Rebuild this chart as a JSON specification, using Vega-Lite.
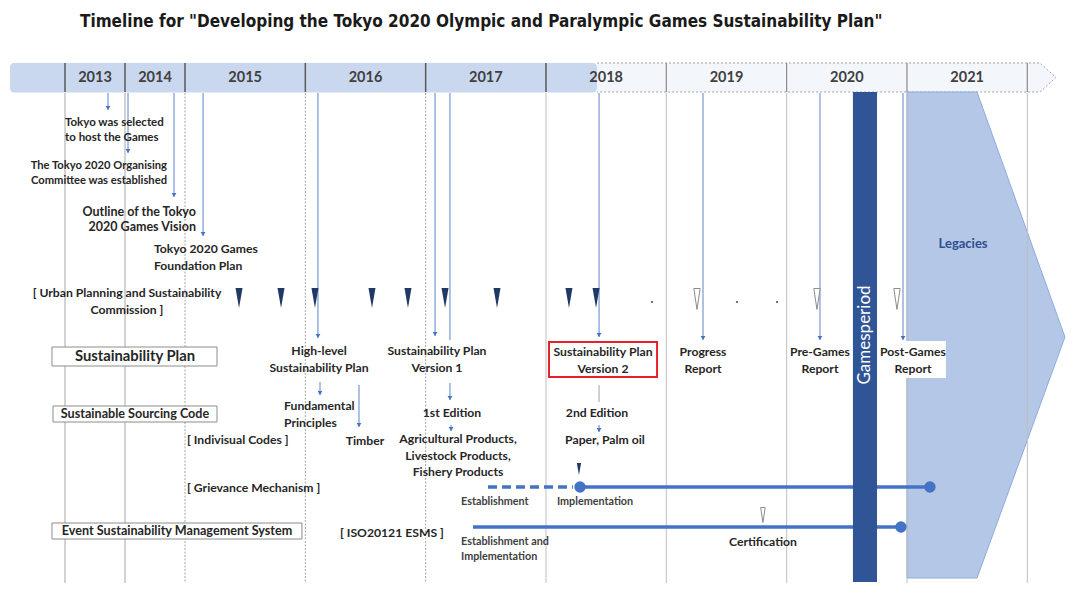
{
"$schema": "https://vega.github.io/schema/vega-lite/v6.json",
"width": 1080, "height": 597, "padding": 0,
"autosize": {"type": "fit", "contains": "padding"},
"background": "white",
"config": {"view": {"stroke": null}},
"datasets": {
"yearLabels": [
{"label":"2013","t":2013.5,"y":7.75},{"label":"2014","t":2014.5,"y":7.75},{"label":"2015","t":2015.5,"y":7.75},{"label":"2016","t":2016.5,"y":7.75},{"label":"2017","t":2017.5,"y":7.75},{"label":"2018","t":2018.5,"y":7.75},{"label":"2019","t":2019.5,"y":7.75},{"label":"2020","t":2020.5,"y":7.75},{"label":"2021","t":2021.5,"y":7.75}],
"headerSepDark": [{"t":2013,"y":6.3,"y2":9.2},{"t":2014,"y":6.3,"y2":9.2},{"t":2015,"y":6.3,"y2":9.2},{"t":2016,"y":6.3,"y2":9.2},{"t":2017,"y":6.3,"y2":9.2},{"t":2018,"y":6.3,"y2":9.2}],
"headerSepGray": [{"t":2019,"y":6.3,"y2":9.2},{"t":2020,"y":6.3,"y2":9.2},{"t":2021,"y":6.3,"y2":9.2},{"t":2022,"y":6.3,"y2":9.2}],
"gridEarly": [{"t":2013,"y":9.3,"y2":58.3},{"t":2014,"y":9.3,"y2":58.3}],
"gridDotted": [{"t":2015,"y":9.3,"y2":58.3},{"t":2016,"y":9.3,"y2":58.3},{"t":2017,"y":9.3,"y2":58.3}],
"gridLate": [{"t":2018,"y":9.3,"y2":58.3},{"t":2019,"y":9.3,"y2":58.3},{"t":2020,"y":9.3,"y2":58.3},{"t":2021,"y":9.3,"y2":58.3},{"t":2022,"y":9.3,"y2":58.3}],
"headerFill": [{"t":2012.083,"t2":2018.424,"y":6.3,"y2":9.25}],
"headerLight": [{"t":2018.424,"t2":2022.106,"y":6.3,"y2":9.2}],
"headerTip": [{"t":2022.106,"y":6.3,"y2":9.2},{"t":2022.238,"y":7.75,"y2":7.75}],
"headerOutline": [{"i":1,"t":2018.424,"y":6.3},{"i":2,"t":2022.106,"y":6.3},{"i":3,"t":2022.238,"y":7.75},{"i":4,"t":2022.106,"y":9.2},{"i":5,"t":2018.424,"y":9.2}],
"legacies": [{"t":2021.0,"y":9.2,"y2":57.8},{"t":2021.582,"y":9.2,"y2":57.8},{"t":2022.313,"y":33.7,"y2":33.7}],
"boxes": [{"t":2012.783,"t2":2015.266,"y":34.7,"y2":36.6},{"t":2012.8,"t2":2015.266,"y":40.6,"y2":42.2},{"t":2012.783,"t2":2015.972,"y":52.3,"y2":53.9}],
"arrows": [
{"t":2013.717,"y":9.3,"y2":11.0},{"t":2014.05,"y":9.3,"y2":15.3},{"t":2014.817,"y":9.3,"y2":19.7},{"t":2015.15,"y":9.3,"y2":23.6},
{"t":2016.105,"y":9.3,"y2":33.8},{"t":2017.078,"y":9.3,"y2":33.6},{"t":2018.441,"y":9.3,"y2":33.7},{"t":2019.305,"y":9.3,"y2":34.0},
{"t":2020.277,"y":9.3,"y2":34.0},{"t":2020.967,"y":9.3,"y2":34.0},
{"t":2016.122,"y":38.2,"y2":39.5},{"t":2016.446,"y":38.5,"y2":42.7},{"t":2017.202,"y":38.3,"y2":40.0},{"t":2017.211,"y":42.5,"y2":43.1},{"t":2018.441,"y":42.5,"y2":43.2}],
"plainLines": [{"t":2017.202,"y":9.3,"y2":34.0}],
"grayLines": [{"t":2018.441,"y":38.5,"y2":40.2}],
"navyWedges": [{"t":2015.449,"y":29.8},{"t":2015.798,"y":29.8},{"t":2016.08,"y":29.8},{"t":2016.554,"y":29.8},{"t":2016.853,"y":29.8},{"t":2017.161,"y":29.8},{"t":2017.593,"y":29.8},{"t":2018.191,"y":29.8},{"t":2018.416,"y":29.8}],
"hollowWedges": [{"t":2019.255,"y":29.9},{"t":2020.252,"y":29.9},{"t":2020.917,"y":29.9}],
"dots": [{"t":2018.881,"y":30.2},{"t":2019.587,"y":30.2},{"t":2019.92,"y":30.2}],
"smallNavy": [{"t":2018.274,"y":46.9}],
"certWedge": [{"t":2019.803,"y":51.5}],
"lineSolid": [{"t":2018.283,"t2":2021.191,"y":48.7},{"t":2017.393,"t2":2020.95,"y":52.7}],
"lineDashed": [{"t":2017.518,"t2":2018.224,"y":48.7}],
"lineDots": [{"t":2018.283,"y":48.7},{"t":2021.191,"y":48.7},{"t":2020.95,"y":52.7}],
"gamesBar": [{"t":2020.551,"t2":2020.751,"y":9.2,"y2":58.2}],
"whiteBox": [{"t":2020.984,"t2":2021.324,"y":34.1,"y2":37.8}],
"redBox": [{"t":2018.025,"t2":2018.923,"y":34.2,"y2":37.7}],
"labelsCenter": [
{"label":"[ Urban Planning and Sustainability\nCommission ]","t":2014.033,"y":29.3},
{"label":"High-level\nSustainability Plan","t":2016.114,"y":35.1},
{"label":"Timber","t":2016.496,"y":44.1},
{"label":"Sustainability Plan\nVersion 1","t":2017.094,"y":35.1},
{"label":"1st Edition","t":2017.219,"y":41.3},
{"label":"Agricultural Products,\nLivestock Products,\nFishery Products","t":2017.269,"y":43.9},
{"label":"Sustainability Plan\nVersion 2","t":2018.474,"y":35.2},
{"label":"2nd Edition","t":2018.424,"y":41.3},
{"label":"Paper, Palm oil","t":2018.49,"y":44.0},
{"label":"Certification","t":2019.803,"y":54.2},
{"label":"Progress\nReport","t":2019.305,"y":35.2},
{"label":"Pre-Games\nReport","t":2020.277,"y":35.2},
{"label":"Post-Games\nReport","t":2021.05,"y":35.2}],
"labelsBox": [
{"label":"Sustainable Sourcing Code","t":2014.167,"y":41.4},
{"label":"Event Sustainability Management System","t":2014.867,"y":53.1}],
"labelPlan": [{"label":"Sustainability Plan","t":2014.167,"y":35.7}],
"labelsLeft": [
{"label":"Tokyo 2020 Games\nFoundation Plan","t":2014.483,"y":24.9},
{"label":"[ Indivisual Codes ]","t":2015.017,"y":44.0},
{"label":"[ Grievance Mechanism ]","t":2015.017,"y":48.8},
{"label":"Fundamental\nPrinciples","t":2015.823,"y":40.6},
{"label":"[ ISO20121 ESMS ]","t":2016.288,"y":53.3}],
"labelsLeftSmall": [
{"label":"Tokyo was selected\nto host the Games","t":2013.0,"y":12.3}],
"labelsRightSmall": [
{"label":"The Tokyo 2020 Organising\nCommittee was established","t":2014.7,"y":16.6}],
"labelsRight": [
{"label":"Outline of the Tokyo\n2020 Games Vision","t":2015.091,"y":21.2}],
"labelsStage": [
{"label":"Establishment","t":2017.294,"y":50.2},
{"label":"Implementation","t":2018.091,"y":50.2},
{"label":"Establishment and\nImplementation","t":2017.294,"y":54.2}],
"legaciesLabel": [{"label":"Legacies","t":2021.466,"y":24.4}],
"gamesLabel": [{"label":"Gamesperiod","t":2020.651,"y":33.5}],
"title": [{"label":"Timeline for \"Developing the Tokyo 2020 Olympic and Paralympic Games Sustainability Plan\"","t":2013.25,"y":2.2}]
},
"encoding": {
"x": {"field":"t","type":"quantitative","scale":{"domain":[2012,2013,2015,2022],"range":[5,65,185,1027.3],"nice":false,"zero":false},"axis":null},
"y": {"field":"y","type":"quantitative","scale":{"domain":[0,59.7],"reverse":true,"nice":false,"zero":false},"axis":null}
},
"layer": [
{"data":{"name":"headerFill"},"mark":{"type":"rect","fill":"#c9d7ef","cornerRadius":4},"encoding":{"x2":{"field":"t2"},"y2":{"field":"y2"}}},
{"data":{"name":"headerLight"},"mark":{"type":"rect","fill":"#f3f6fb"},"encoding":{"x2":{"field":"t2"},"y2":{"field":"y2"}}},
{"data":{"name":"headerTip"},"mark":{"type":"area","fill":"#f3f6fb","orient":"vertical"},"encoding":{"y2":{"field":"y2"}}},
{"data":{"name":"headerOutline"},"mark":{"type":"line","stroke":"#a6a6a6","strokeDash":[2,2],"strokeWidth":1},"encoding":{"order":{"field":"i"}}},
{"data":{"name":"headerSepDark"},"mark":{"type":"rule","stroke":"#595959","strokeWidth":1.5},"encoding":{"y2":{"field":"y2"}}},
{"data":{"name":"headerSepGray"},"mark":{"type":"rule","stroke":"#8a8a8a","strokeWidth":1.2},"encoding":{"y2":{"field":"y2"}}},
{"data":{"name":"yearLabels"},"mark":{"type":"text","font":"Lato","fontWeight":"bold","fontSize":14.5,"fill":"#404040","align":"center","baseline":"middle"},"encoding":{"text":{"field":"label"}}},
{"data":{"name":"legacies"},"mark":{"type":"area","fill":"#b4c7e7","stroke":"#8faadc","strokeWidth":1,"orient":"vertical"},"encoding":{"y2":{"field":"y2"}}},
{"data":{"name":"gridEarly"},"mark":{"type":"rule","stroke":"#a6a6a6","strokeWidth":1},"encoding":{"y2":{"field":"y2"}}},
{"data":{"name":"gridDotted"},"mark":{"type":"rule","stroke":"#a6a6a6","strokeWidth":1,"strokeDash":[2,1.5]},"encoding":{"y2":{"field":"y2"}}},
{"data":{"name":"gridLate"},"mark":{"type":"rule","stroke":"#bfbfbf","strokeWidth":1},"encoding":{"y2":{"field":"y2"}}},
{"data":{"name":"boxes"},"mark":{"type":"rect","fill":"white","stroke":"#8c8c8c","strokeWidth":1},"encoding":{"x2":{"field":"t2"},"y2":{"field":"y2"}}},
{"data":{"name":"arrows"},"mark":{"type":"rule","stroke":"#5b84c9","strokeWidth":1},"encoding":{"y2":{"field":"y2"}}},
{"data":{"name":"arrows"},"mark":{"type":"point","shape":"M-1.2,-2L1.2,-2L0,0Z","size":16,"filled":true,"fill":"#4472c4","opacity":1},"encoding":{"y":{"field":"y2","type":"quantitative"}}},
{"data":{"name":"plainLines"},"mark":{"type":"rule","stroke":"#5b84c9","strokeWidth":1},"encoding":{"y2":{"field":"y2"}}},
{"data":{"name":"grayLines"},"mark":{"type":"rule","stroke":"#c0c0c0","strokeWidth":1.5},"encoding":{"y2":{"field":"y2"}}},
{"data":{"name":"navyWedges"},"mark":{"type":"point","shape":"M-0.35,-1L0.35,-1L0,1Z","size":400,"filled":true,"fill":"#1f3864","opacity":1},"encoding":{}},
{"data":{"name":"hollowWedges"},"mark":{"type":"point","shape":"M-0.3,-1L0.3,-1L0,1Z","size":440,"filled":false,"fill":"white","stroke":"#8c8c8c","strokeWidth":1,"opacity":1},"encoding":{}},
{"data":{"name":"dots"},"mark":{"type":"point","shape":"circle","size":5,"filled":true,"fill":"#595959","opacity":1},"encoding":{}},
{"data":{"name":"smallNavy"},"mark":{"type":"point","shape":"M-0.35,-1L0.35,-1L0,1Z","size":150,"filled":true,"fill":"#1f3864","opacity":1},"encoding":{}},
{"data":{"name":"certWedge"},"mark":{"type":"point","shape":"M-0.3,-1L0.3,-1L0,1Z","size":225,"filled":false,"fill":"white","stroke":"#8c8c8c","strokeWidth":1,"opacity":1},"encoding":{}},
{"data":{"name":"lineDashed"},"mark":{"type":"rule","stroke":"#4472c4","strokeWidth":3.5,"strokeDash":[9,5]},"encoding":{"x2":{"field":"t2"}}},
{"data":{"name":"lineSolid"},"mark":{"type":"rule","stroke":"#4472c4","strokeWidth":3.5},"encoding":{"x2":{"field":"t2"}}},
{"data":{"name":"lineDots"},"mark":{"type":"point","shape":"circle","size":130,"filled":true,"fill":"#4472c4","opacity":1},"encoding":{}},
{"data":{"name":"gamesBar"},"mark":{"type":"rect","fill":"#2f5597"},"encoding":{"x2":{"field":"t2"},"y2":{"field":"y2"}}},
{"data":{"name":"whiteBox"},"mark":{"type":"rect","fill":"white"},"encoding":{"x2":{"field":"t2"},"y2":{"field":"y2"}}},
{"data":{"name":"redBox"},"mark":{"type":"rect","fill":"white","fillOpacity":0,"stroke":"#e8202a","strokeWidth":2},"encoding":{"x2":{"field":"t2"},"y2":{"field":"y2"}}},
{"data":{"name":"labelsCenter"},"mark":{"type":"text","font":"Lato","fontWeight":"bold","fontSize":12.2,"fill":"#262626","align":"center","baseline":"middle","lineBreak":"\n","lineHeight":16.5},"encoding":{"text":{"field":"label"}}},
{"data":{"name":"labelsBox"},"mark":{"type":"text","font":"Lato","fontWeight":"bold","fontSize":12.6,"fill":"#262626","align":"center","baseline":"middle"},"encoding":{"text":{"field":"label"}}},
{"data":{"name":"labelPlan"},"mark":{"type":"text","font":"Lato","fontWeight":"bold","fontSize":14.8,"fill":"#262626","align":"center","baseline":"middle"},"encoding":{"text":{"field":"label"}}},
{"data":{"name":"labelsLeft"},"mark":{"type":"text","font":"Lato","fontWeight":"bold","fontSize":12.2,"fill":"#262626","align":"left","baseline":"middle","lineBreak":"\n","lineHeight":16.5},"encoding":{"text":{"field":"label"}}},
{"data":{"name":"labelsLeftSmall"},"mark":{"type":"text","font":"Lato","fontWeight":"bold","fontSize":11.5,"fill":"#262626","align":"left","baseline":"middle","lineBreak":"\n","lineHeight":15},"encoding":{"text":{"field":"label"}}},
{"data":{"name":"labelsRightSmall"},"mark":{"type":"text","font":"Lato","fontWeight":"bold","fontSize":11.2,"fill":"#262626","align":"right","baseline":"middle","lineBreak":"\n","lineHeight":15},"encoding":{"text":{"field":"label"}}},
{"data":{"name":"labelsRight"},"mark":{"type":"text","font":"Lato","fontWeight":"bold","fontSize":12.5,"fill":"#262626","align":"right","baseline":"middle","lineBreak":"\n","lineHeight":15},"encoding":{"text":{"field":"label"}}},
{"data":{"name":"labelsStage"},"mark":{"type":"text","font":"Lato","fontWeight":"bold","fontSize":10.8,"fill":"#404040","align":"left","baseline":"middle","lineBreak":"\n","lineHeight":15},"encoding":{"text":{"field":"label"}}},
{"data":{"name":"legaciesLabel"},"mark":{"type":"text","font":"Lato","fontWeight":"bold","fontSize":13,"fill":"#2f4f8f","align":"center","baseline":"middle"},"encoding":{"text":{"field":"label"}}},
{"data":{"name":"gamesLabel"},"mark":{"type":"text","font":"Lato","fontWeight":"normal","fontSize":17,"fill":"white","align":"center","baseline":"middle","angle":270},"encoding":{"text":{"field":"label"}}},
{"data":{"name":"title"},"mark":{"type":"text","font":"Liberation Sans Narrow, DejaVu Sans Condensed, Liberation Sans","fontWeight":"bold","fontSize":17,"fill":"#1a1a1a","align":"left","baseline":"middle"},"encoding":{"text":{"field":"label"}}}
]
}
